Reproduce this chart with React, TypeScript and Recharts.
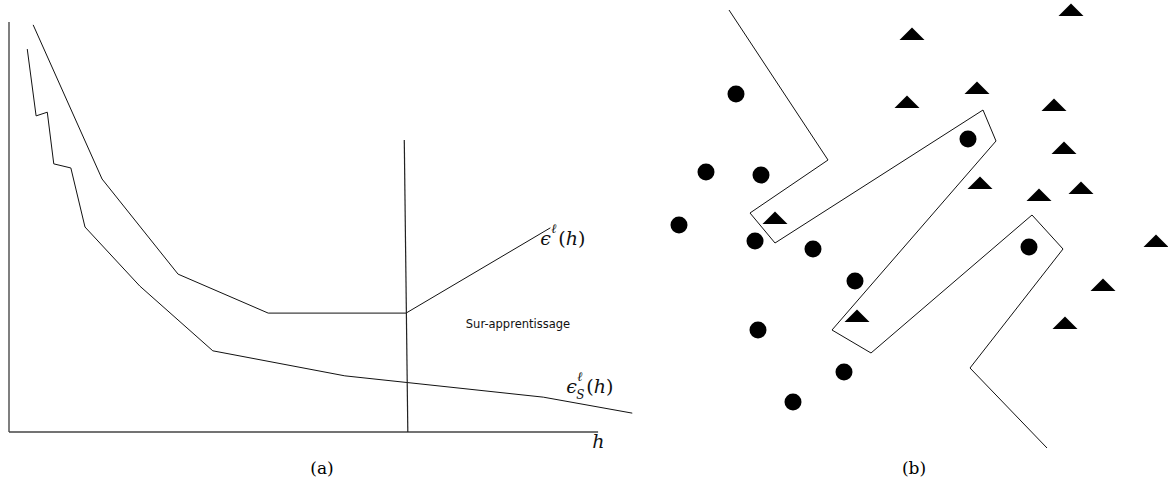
import { ComposedChart, Line, Scatter, XAxis, YAxis, ReferenceLine, ReferenceDot } from "recharts";

// (a) errors as a function of h (x: 0..100 on the axis, y: 0..100)
const trueError = [
  { x: 4.1, y: 99.3 },
  { x: 15.8, y: 61.7 },
  { x: 28.7, y: 38.5 },
  { x: 44.0, y: 29.0 },
  { x: 67.4, y: 29.0 },
  { x: 91.9, y: 49.8 },
];

const empiricalError = [
  { x: 3.1, y: 93.4 },
  { x: 4.6, y: 77.1 },
  { x: 6.5, y: 78.0 },
  { x: 7.6, y: 65.4 },
  { x: 10.5, y: 64.4 },
  { x: 12.9, y: 50.0 },
  { x: 22.2, y: 35.6 },
  { x: 34.6, y: 19.8 },
  { x: 57.0, y: 13.7 },
  { x: 90.7, y: 8.5 },
  { x: 105.8, y: 4.6 },
];

const cutoff = [
  { x: 67.1, y: 71.2 },
  { x: 67.7, y: 0 },
];

// (b) two classes and a separating boundary
const circles = [
  { x: 15.2, y: 73.2 },
  { x: 9.2, y: 57.6 },
  { x: 20.2, y: 57.0 },
  { x: 3.8, y: 47.0 },
  { x: 19.0, y: 43.8 },
  { x: 30.6, y: 42.2 },
  { x: 61.6, y: 64.2 },
  { x: 73.8, y: 42.6 },
  { x: 39.0, y: 35.8 },
  { x: 19.6, y: 26.0 },
  { x: 36.8, y: 17.6 },
  { x: 26.6, y: 11.6 },
];

const triangles = [
  { x: 82.2, y: 88.8 },
  { x: 50.4, y: 84.0 },
  { x: 63.4, y: 73.2 },
  { x: 49.4, y: 70.4 },
  { x: 78.8, y: 69.8 },
  { x: 80.8, y: 61.2 },
  { x: 64.0, y: 54.2 },
  { x: 84.2, y: 53.2 },
  { x: 75.8, y: 51.8 },
  { x: 23.0, y: 47.2 },
  { x: 99.2, y: 42.6 },
  { x: 88.6, y: 33.8 },
  { x: 81.0, y: 26.2 },
  { x: 39.4, y: 27.6 },
];

const boundary = [
  { x: 13.8, y: 90.0 },
  { x: 33.6, y: 60.0 },
  { x: 18.0, y: 49.4 },
  { x: 23.0, y: 43.4 },
  { x: 64.6, y: 70.0 },
  { x: 67.2, y: 63.8 },
  { x: 34.4, y: 26.0 },
  { x: 42.2, y: 21.4 },
  { x: 74.4, y: 49.0 },
  { x: 80.6, y: 42.2 },
  { x: 62.0, y: 18.4 },
  { x: 77.4, y: 2.4 },
];

const serif = "'DejaVu Serif', 'Liberation Serif', serif";

const Disc = (p: any) => <circle cx={p.cx} cy={p.cy} r={8.5} fill="#000" />;
const Tri = (p: any) => (
  <polygon
    points={`${p.cx - 12.5},${p.cy} ${p.cx + 12.5},${p.cy} ${p.cx},${p.cy - 12.5}`}
    fill="#000"
  />
);

const ErrLabel = (sub: boolean) => (p: any) => (
  <g style={{ fontFamily: serif }} fill="#111">
    <text x={p.cx} y={p.cy} fontSize={19} fontStyle="italic">ϵ</text>
    <text x={p.cx + 11} y={p.cy - 12} fontSize={13} fontStyle="italic">ℓ</text>
    {sub && (
      <text x={p.cx + 10} y={p.cy + 6} fontSize={12} fontStyle="italic">S</text>
    )}
    <text x={p.cx + (sub ? 20 : 18)} y={p.cy} fontSize={19}>
      (<tspan fontStyle="italic">h</tspan>)
    </text>
  </g>
);

const TextAt = (label: string, size: number, family: string, italic = false, anchor = "start") => (p: any) => (
  <text
    x={p.cx}
    y={p.cy}
    fontSize={size}
    style={{ fontFamily: family }}
    fontStyle={italic ? "italic" : "normal"}
    textAnchor={anchor}
    fill="#111"
  >
    {label}
  </text>
);

const caption: React.CSSProperties = {
  position: "absolute",
  top: 458,
  fontFamily: serif,
  fontSize: 17,
  transform: "translateX(-50%)",
};

export default function App() {
  return (
    <div style={{ position: "absolute", left: 0, top: 0, width: 1168, height: 495, background: "#fff" }}>
      <div style={{ position: "absolute", left: 0, top: 0 }}>
        <ComposedChart width={657} height={462} margin={{ top: 22, right: 0, bottom: 30, left: 9 }}>
          <XAxis type="number" dataKey="x" domain={[0, 110]} allowDataOverflow hide />
          <YAxis type="number" dataKey="y" domain={[0, 100]} allowDataOverflow hide />
          <ReferenceLine segment={[{ x: 0, y: 0 }, { x: 0, y: 100 }]} stroke="#555" strokeWidth={1.5} ifOverflow="visible" />
          <ReferenceLine segment={[{ x: 0, y: 0 }, { x: 100, y: 0 }]} stroke="#444" strokeWidth={1.5} ifOverflow="visible" />
          <Line data={trueError} dataKey="y" type="linear" stroke="#111" strokeWidth={1} dot={false} activeDot={false} isAnimationActive={false} />
          <Line data={empiricalError} dataKey="y" type="linear" stroke="#111" strokeWidth={1} dot={false} activeDot={false} isAnimationActive={false} />
          <Line data={cutoff} dataKey="y" type="linear" stroke="#222" strokeWidth={1.2} dot={false} activeDot={false} isAnimationActive={false} />
          <ReferenceDot x={90.2} y={45.6} r={0} ifOverflow="visible" shape={ErrLabel(false)} />
          <ReferenceDot x={94.6} y={9.5} r={0} ifOverflow="visible" shape={ErrLabel(true)} />
          <ReferenceDot x={86.4} y={25.4} r={0} ifOverflow="visible" shape={TextAt("Sur-apprentissage", 11.5, "'DejaVu Sans', sans-serif", false, "middle")} />
          <ReferenceDot x={99.0} y={-4.0} r={0} ifOverflow="visible" shape={TextAt("h", 19, serif, true)} />
        </ComposedChart>
      </div>
      <div style={{ position: "absolute", left: 660, top: 0 }}>
        <ComposedChart width={510} height={460} margin={{ top: 0, right: 0, bottom: 0, left: 0 }}>
          <XAxis type="number" dataKey="x" domain={[0, 102]} allowDataOverflow hide />
          <YAxis type="number" dataKey="y" domain={[0, 92]} allowDataOverflow hide />
          <Line data={boundary} dataKey="y" type="linear" stroke="#111" strokeWidth={1} dot={false} activeDot={false} isAnimationActive={false} />
          <Scatter data={circles} dataKey="y" shape={Disc} isAnimationActive={false} />
          <Scatter data={triangles} dataKey="y" shape={Tri} isAnimationActive={false} />
        </ComposedChart>
      </div>
      <div style={{ ...caption, left: 322 }}>(a)</div>
      <div style={{ ...caption, left: 914 }}>(b)</div>
    </div>
  );
}
